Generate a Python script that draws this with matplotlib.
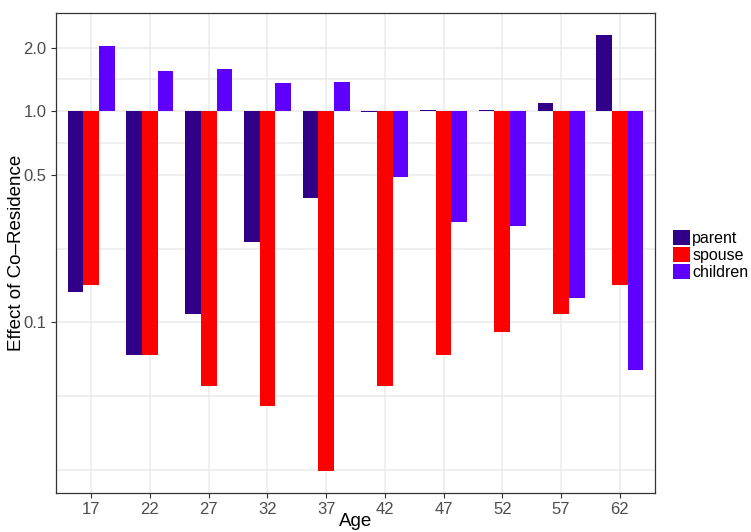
import numpy as np
import matplotlib
matplotlib.use('Agg')
import matplotlib.pyplot as plt
from matplotlib.patches import Patch

plt.rcParams['font.family'] = ['Liberation Sans', 'DejaVu Sans']

ages = ['17', '22', '27', '32', '37', '42', '47', '52', '57', '62']
parent = [0.139, 0.070, 0.109, 0.239, 0.389, 0.99, 1.01, 1.01, 1.09, 2.29]
spouse = [0.150, 0.070, 0.050, 0.040, 0.0198, 0.050, 0.070, 0.090, 0.109, 0.150]
children = [2.03, 1.545, 1.58, 1.357, 1.371, 0.489, 0.300, 0.287, 0.130, 0.0593]

series = ['parent', 'spouse', 'children']
colors = ['#300088', '#FF0000', '#5D00FF']

W, H = 751, 532
fig = plt.figure(figsize=(W / 100, H / 100), dpi=100)
ax = fig.add_axes([56 / W, (H - 492.7) / H, (655 - 56) / W, (492.7 - 13.3) / H])

x = np.arange(len(ages))
w = 0.8 / 3
for k, (vals, c) in enumerate(zip([parent, spouse, children], colors)):
    vals = np.array(vals)
    ax.bar(x + (k - 1) * w, vals - 1, bottom=1, width=w, color=c,
           linewidth=0, zorder=3)

ax.set_yscale('log')
allv = np.log10(np.concatenate([parent, spouse, children, [1.0]]))
lo, hi = allv.min(), allv.max()
pad = 0.05 * (hi - lo)
ax.set_ylim(10 ** (lo - pad), 10 ** (hi + pad))
ax.set_xlim(-0.6, len(ages) - 0.4)

major = [0.1, 0.5, 1.0, 2.0]
ax.set_yticks(major)
ax.set_yticklabels(['0.1', '0.5', '1.0', '2.0'])
ax.yaxis.set_minor_locator(matplotlib.ticker.NullLocator())
ax.set_xticks(x)
ax.set_xticklabels(ages)

# grid lines in the style of theme_bw
minor = [0.02, 0.0447, 0.2236, 0.7071, 1.4142]
for v in major + minor:
    ax.axhline(v, color='#EBEBEB', lw=1.1, zorder=0)
for xi in x:
    ax.axvline(xi, color='#EBEBEB', lw=1.1, zorder=0)

for s in ax.spines.values():
    s.set_color('#333333')
    s.set_linewidth(0.9)
ax.tick_params(axis='both', colors='#333333', length=3.5, width=0.8,
               labelsize=12, labelcolor='#4D4D4D')

ax.set_xlabel('Age', fontsize=13.5)
ax.set_ylabel('Effect of Co\u2013Residence', fontsize=13.5)
ax.xaxis.set_label_coords(0.5, (492.7 - 522) / 479.4)
ax.xaxis.label.set_va('center')
ax.yaxis.set_label_coords((17 - 56) / 599, 0.5)
ax.yaxis.label.set_va('center')

handles = [Patch(facecolor=c, edgecolor='none') for c in colors]
fig.legend(handles, series, loc='center left',
           bbox_to_anchor=(673 / W, 1 - 255 / H), frameon=False,
           fontsize=11.5, handlelength=1.05, handleheight=1.05,
           handletextpad=0.15, labelspacing=0.05, borderpad=0,
           borderaxespad=0)

fig.savefig('out.png', dpi=100)
